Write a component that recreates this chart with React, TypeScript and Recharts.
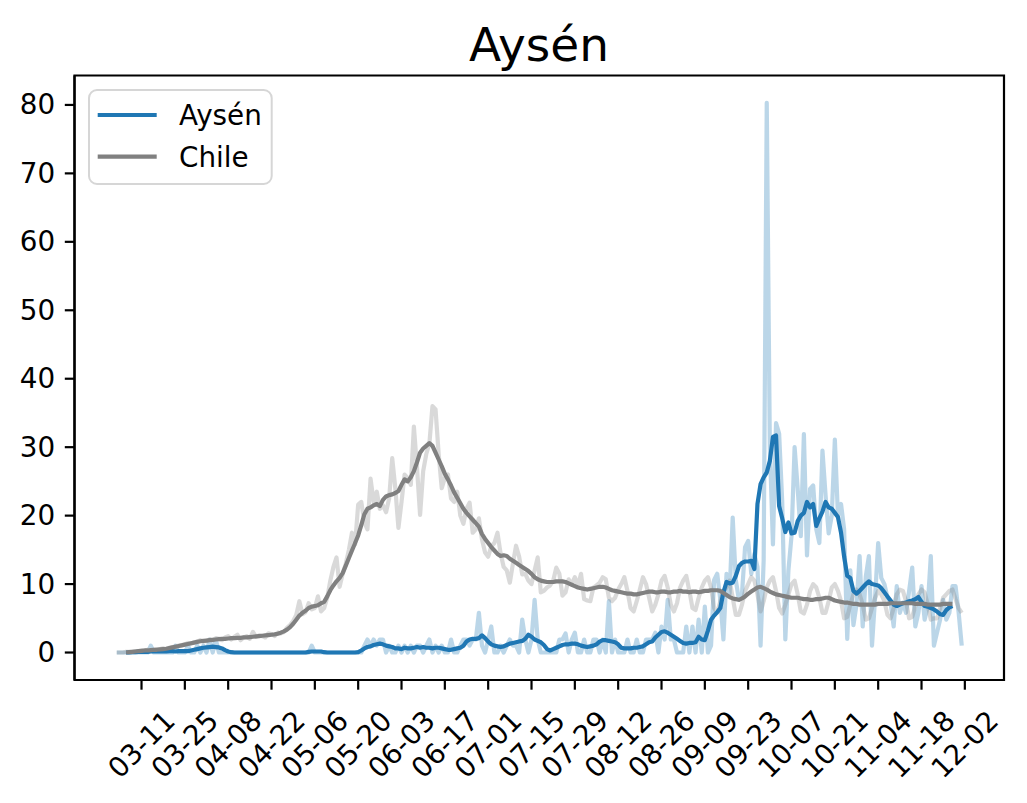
import React from "react";
import { LineChart, Line, XAxis, YAxis, ReferenceArea } from "recharts";

// day 0 = 03-03; daily values per 100k
const aysenRaw = [
  0, 0, 0, 0, 0, 0, 0, 0, 0, 0,
  0, 1, 0, 0, 0, 0, 0, 0, 0, 1,
  0, 0, 0, 1, 0, 0, 1, 0, 1, 0,
  1.9, 0, 1.9, 0, 0, 0, 0, 0, 0, 0,
  0, 0, 0, 0, 0, 0, 0, 0, 0, 0,
  0, 0, 0, 0, 0, 0, 0, 0, 0, 0,
  0, 0, 0, 1, 0, 0, 0, 0, 0, 0,
  0, 0, 0, 0, 0, 0, 0, 0, 0, 0,
  1, 1.9, 1, 1.9, 1, 1.9, 1.9, 0, 1, 0,
  0, 1, 0, 1, 0, 1, 0, 1, 1, 0,
  1, 1.9, 0, 1, 0, 1, 0, 0, 1.9, 0,
  0, 1, 1.9, 1.9, 1, 1.9, 1.9, 5.8, 1, 0,
  1.9, 3.8, 0, 0, 1, 0, 1, 1.9, 1, 1,
  0, 4.8, 1.9, 0, 1.9, 7.7, 1.9, 0, 0, 0,
  0, 0, 0, 1.9, 1.9, 2.8, 0, 1.9, 2.9, 0,
  0, 1.9, 0, 0, 1.9, 1.9, 0, 1.9, 0, 7.5,
  0, 1.9, 0, 0, 0, 1.9, 0, 0, 1.9, 0,
  0, 1.9, 1.9, 1.9, 2.9, 0, 3.8, 1.9, 7.7, 1.9,
  1.9, 0, 0, 0, 3.8, 0, 3.8, 0, 4.8, 0,
  6.7, 0, 1, 10.6, 11.5, 7.7, 1.9, 11.5, 8.6, 19.7,
  10.6, 7.7, 8.6, 15.4, 16.3, 11.5, 14.4, 12.5, 1, 13.4,
  80.3, 30, 15.8, 33.5, 32, 22, 1.9, 12, 17, 30,
  23.9, 17, 31.9, 14.2, 23.9, 24.4, 18, 16, 29.5, 23,
  17.4, 20, 31.1, 20, 21.7, 18, 2, 12, 4, 7,
  14.1, 3.8, 11.1, 14.1, 1, 8, 16, 10.9, 10, 8,
  7.3, 3.8, 9.7, 5.8, 7.3, 5.8, 9, 12.4, 3.8, 5.8,
  9.7, 4.8, 6.7, 14.1, 1, 2.9, 4.8, 7.7, 4.8, 5.8,
  9.7, 9.7, 5.8, 1,
];

const chileRaw = [
  0, 0, 0, 0.1, 0.1, 0.1, 0.2, 0.2, 0.3, 0.3,
  0.4, 0.3, 0.4, 0.5, 0.5, 0.6, 0.5, 0.7, 0.8, 0.9,
  1.0, 1.1, 1.2, 1.4, 1.3, 1.5, 1.6, 1.8, 1.6, 1.7,
  1.9, 1.8, 2.1, 2.0, 1.8, 2.2, 2.4, 1.9, 2.3, 2.6,
  1.8, 2.2, 2.4, 2.0, 3.0, 2.3, 2.5, 2.4, 2.2, 2.8,
  2.7, 2.4, 2.9, 2.8, 3.0, 3.6, 4.0, 4.6, 5.5, 7.5,
  5.6, 5.9, 7.2, 6.3, 6.5, 8.2, 6.0, 6.5, 8.0, 10.5,
  12.5, 13.9, 9.6, 11.5, 13.0, 15.0, 17.5, 15.8, 21.6, 22.0,
  19.0, 18.0, 25.4, 22.0, 23.5, 21.0, 21.5, 20.5, 22.5, 28.4,
  24.0, 18.2, 22.0, 26.0, 25.5, 24.5, 33.0, 27.0, 20.1, 26.5,
  29.0, 30.5, 36.0, 35.5, 29.0, 24.0, 25.5, 26.0, 22.5, 22.0,
  23.5, 20.0, 18.8, 21.0, 21.9, 17.5, 18.0, 19.6, 16.5, 14.6,
  14.0, 15.5, 16.0, 17.5, 14.5, 12.5, 12.0, 10.2, 13.0, 15.6,
  14.0, 11.4, 11.5, 10.5, 10.0, 12.0, 13.9, 8.8, 9.0, 9.5,
  9.8, 10.5, 12.4, 11.5, 8.3, 8.8, 10.7, 10.0, 11.0, 9.8,
  11.5, 7.8, 7.6, 7.5, 9.5, 9.8, 10.2, 11.0, 10.7, 8.0,
  7.5, 8.0, 9.2, 10.0, 11.0, 9.0, 6.5, 6.0, 7.5, 9.2,
  11.0, 10.0, 8.0, 6.0, 7.0, 8.5, 10.5, 11.2, 9.5, 7.0,
  6.0, 7.2, 9.5, 10.5, 11.2, 9.0, 6.5, 6.2, 8.0, 9.5,
  10.5, 11.0, 9.5, 6.5, 5.8, 7.5, 9.0, 9.5, 10.5, 8.0,
  5.5, 5.5, 7.0, 9.0, 10.0, 11.0, 10.5, 8.5, 6.0, 7.5,
  9.5, 10.5, 11.0, 9.0, 6.5, 5.7, 7.0, 8.5, 10.0, 10.5,
  8.5, 6.0, 5.7, 7.0, 9.0, 10.0, 9.5, 8.0, 5.8, 5.8,
  7.5, 9.5, 10.0, 9.0, 7.5, 5.0, 5.2, 7.0, 8.5, 9.2,
  8.5, 7.0, 4.8, 5.0, 6.5, 8.0, 9.0, 8.5, 7.5, 5.5,
  5.0, 6.5, 8.5, 9.2, 9.0, 7.5, 5.0, 5.2, 6.8, 8.5,
  9.2, 8.8, 7.0, 4.8, 5.0, 5.0, 6.5, 8.0, 8.5, 9.0,
  9.2, 7.8, 6.5, 5.8,
];

// 7-day centred averages, first value is day AVG_START
const AVG_START = 3;

const aysenAvg = [
  0, 0, 0.05, 0.05, 0.1, 0.1, 0.1, 0.1, 0.15, 0.15,
  0.15, 0.15, 0.15, 0.15, 0.2, 0.2, 0.15, 0.2, 0.2, 0.2,
  0.2, 0.3, 0.4, 0.5, 0.6, 0.7, 0.75, 0.8, 0.85, 0.8,
  0.75, 0.6, 0.35, 0.15, 0.05, 0, 0, 0, 0, 0,
  0, 0, 0, 0, 0, 0, 0, 0, 0, 0,
  0, 0, 0, 0, 0, 0, 0, 0, 0, 0.1,
  0.15, 0.15, 0.15, 0.15, 0.05, 0, 0, 0, 0, 0,
  0, 0, 0, 0, 0, 0.05, 0.3, 0.6, 0.8, 0.9,
  1.1, 1.2, 1.3, 1.2, 1.0, 0.9, 0.8, 0.6, 0.6, 0.5,
  0.7, 0.6, 0.6, 0.7, 0.8, 0.7, 0.8, 0.7, 0.7, 0.6,
  0.7, 0.7, 0.6, 0.5, 0.4, 0.4, 0.5, 0.6, 0.7, 1.0,
  1.6, 1.9, 2.0, 2.0, 2.1, 2.5, 2.1, 1.6, 1.2, 1.0,
  0.9, 0.8, 0.9, 1.1, 1.3, 1.4, 1.5, 1.6, 1.7, 2.0,
  2.6, 2.3, 1.9, 1.7, 1.5, 1.1, 0.5, 0.3, 0.5, 0.7,
  0.9, 1.1, 1.2, 1.2, 1.3, 1.3, 1.2, 1.0, 0.9, 0.8,
  0.9, 1.0, 1.2, 1.6, 1.8, 1.8, 1.7, 1.6, 1.5, 1.2,
  0.7, 0.6, 0.6, 0.6, 0.7, 0.7, 0.8, 0.9, 1.2, 1.5,
  1.6, 2.2, 2.6, 3.0, 3.1, 2.9, 2.6, 2.3, 2.0, 1.7,
  1.4, 1.3, 1.4, 1.4, 1.5, 2.3, 1.9, 1.8, 3.2, 4.8,
  5.4, 5.9, 6.5, 8.8, 10.3, 10.1, 10.2, 11.2, 12.6, 13.1,
  13.3, 13.3, 13.4, 12.2, 21.7, 24.6, 25.6, 26.3, 28.0, 31.5,
  31.7, 21.4, 19.6, 17.6, 19.0, 17.4, 17.5, 19.2, 20.0, 20.4,
  22.0, 21.2, 21.7, 18.5, 19.6, 20.6, 22.0, 21.2, 21.0, 20.4,
  19.8, 17.5, 14.0, 11.2, 10.9, 9.0, 8.6, 9.0, 9.5, 10.0,
  10.4, 10.0, 9.9, 9.8, 9.4, 8.8, 8.2, 7.6, 7.0, 6.8,
  7.0, 7.2, 7.3, 7.5, 7.6, 7.8, 8.1, 7.4, 6.8, 6.7,
  6.5, 6.3, 6.0, 5.6, 5.5, 6.2, 6.6, 6.8,
];

const chileAvg = [
  0.0, 0.05, 0.1, 0.15, 0.2, 0.25, 0.3, 0.3, 0.35, 0.4,
  0.4, 0.45, 0.5, 0.55, 0.65, 0.75, 0.85, 0.95, 1.05, 1.15,
  1.25, 1.35, 1.45, 1.55, 1.65, 1.7, 1.75, 1.8, 1.85, 1.9,
  1.95, 2.0, 2.0, 2.05, 2.1, 2.1, 2.15, 2.15, 2.2, 2.2,
  2.25, 2.3, 2.35, 2.4, 2.45, 2.5, 2.55, 2.6, 2.65, 2.75,
  2.9, 3.1, 3.35, 3.7, 4.2, 4.8, 5.4, 5.8, 6.1, 6.5,
  6.7, 6.8, 6.9, 7.2, 7.4, 8.2, 9.1, 9.8, 10.4, 10.9,
  11.6, 12.7, 13.8, 14.9, 16.0, 17.1, 18.6, 20.2, 21.0, 21.2,
  21.5, 21.7, 21.4, 22.3, 22.8, 23.0, 23.1, 23.3, 23.6, 24.5,
  25.3, 25.0, 25.6, 26.5, 27.8, 29.2, 29.8, 30.2, 30.6, 30.2,
  29.2, 28.2, 27.2, 26.1, 25.3, 24.4, 23.4, 22.6, 21.8, 21.0,
  20.4, 19.9, 19.4, 18.9, 18.4, 17.3, 16.6, 16.0, 15.4, 14.9,
  14.4, 14.1, 14.2, 14.1, 13.7, 13.4, 13.1, 12.8, 12.5, 12.2,
  11.9, 11.5, 11.0, 10.7, 10.5, 10.4, 10.3, 10.3, 10.3, 10.4,
  10.4, 10.4, 10.3, 10.1, 9.9, 9.7, 9.5, 9.4, 9.3, 9.2,
  9.3, 9.4, 9.5, 9.6, 9.6, 9.5, 9.3, 9.1, 9.0, 8.9,
  8.8, 8.7, 8.6, 8.6, 8.5, 8.5, 8.6, 8.7, 8.8, 8.9,
  8.9, 8.8, 8.8, 8.9, 8.9, 8.8, 8.8, 8.9, 8.9, 9.0,
  8.9, 8.9, 8.8, 8.9, 8.9, 8.8, 8.9, 9.0, 9.0, 9.1,
  9.1, 9.1, 9.0, 8.7, 8.4, 8.1, 7.9, 7.8, 7.7, 7.9,
  8.2, 8.6, 8.9, 9.2, 9.5, 9.6, 9.4, 9.2, 8.9, 8.7,
  8.5, 8.4, 8.3, 8.2, 8.1, 8.0, 8.0, 8.0, 7.9, 7.8,
  7.8, 7.7, 7.7, 7.8, 7.8, 7.9, 8.0, 8.0, 7.8, 7.6,
  7.5, 7.4, 7.3, 7.3, 7.2, 7.1, 7.1, 7.0, 7.0, 7.0,
  7.0, 7.0, 7.0, 7.1, 7.1, 7.1, 7.1, 7.2, 7.2, 7.2,
  7.2, 7.2, 7.2, 7.2, 7.2, 7.1, 7.1, 7.1, 7.1, 7.0,
  7.0, 7.0, 7.0, 7.0, 7.1, 7.1, 7.1, 7.1,
];

const tickDays = [8, 22, 36, 50, 64, 78, 92, 106, 120, 134, 148, 162, 176, 190, 204, 218, 232, 246, 260, 274];
const tickLabels = [
  "03-11", "03-25", "04-08", "04-22", "05-06", "05-20", "06-03", "06-17", "07-01", "07-15",
  "07-29", "08-12", "08-26", "09-09", "09-23", "10-07", "10-21", "11-04", "11-18", "12-02",
];
const yTicks = [0, 10, 20, 30, 40, 50, 60, 70, 80];

const BLUE = "#1f77b4";
const GRAY = "#808080";
const FONT = "DejaVu Sans, sans-serif";
const FS = 27.8;

const X_DOMAIN: [number, number] = [-13.65, 286.65];
const Y_DOMAIN: [number, number] = [-4.015, 84.3];

const avgAt = (arr: number[], i: number) => {
  const k = i - AVG_START;
  return k >= 0 && k < arr.length ? arr[k] : null;
};

const rows = aysenRaw.map((v, i) => ({
  day: i,
  aysenRaw: v,
  chileRaw: chileRaw[i],
  aysenAvg: avgAt(aysenAvg, i),
  chileAvg: avgAt(chileAvg, i),
}));

function XTick(props: any) {
  const { x, y, payload } = props;
  const idx = tickDays.indexOf(payload.value);
  const cy = y + 45;
  return (
    <text
      x={x}
      y={cy}
      textAnchor="middle"
      dominantBaseline="central"
      transform={`rotate(-45, ${x}, ${cy})`}
      fontSize={FS}
      fontFamily={FONT}
      fill="#000"
    >
      {idx >= 0 ? tickLabels[idx] : ""}
    </text>
  );
}

function YTick(props: any) {
  const { x, y, payload } = props;
  return (
    <text x={x} y={y} textAnchor="end" dominantBaseline="central" fontSize={FS} fontFamily={FONT} fill="#000">
      {payload.value}
    </text>
  );
}

export default function App() {
  return (
    <div style={{ position: "absolute", left: 0, top: 0, width: 1027, height: 803, background: "#fff" }}>
      <LineChart
        width={1027}
        height={803}
        data={rows}
        margin={{ top: 75.5, right: 23, left: 0, bottom: 0 }}
      >
        <XAxis
          dataKey="day"
          type="number"
          domain={X_DOMAIN}
          ticks={tickDays}
          interval={0}
          height={123}
          tickSize={9.7}
          tickMargin={9.7}
          tick={<XTick />}
          tickLine={{ stroke: "#000", strokeWidth: 2.2 }}
          axisLine={{ stroke: "#000", strokeWidth: 2.2 }}
        />
        <YAxis
          type="number"
          domain={Y_DOMAIN}
          ticks={yTicks}
          interval={0}
          width={74.5}
          tickSize={9.7}
          tickMargin={9.7}
          tick={<YTick />}
          tickLine={{ stroke: "#000", strokeWidth: 2.2 }}
          axisLine={{ stroke: "#000", strokeWidth: 2.2 }}
        />
        <ReferenceArea
          x1={X_DOMAIN[0]}
          x2={X_DOMAIN[1]}
          y1={Y_DOMAIN[0]}
          y2={Y_DOMAIN[1]}
          fill="none"
          fillOpacity={0}
          stroke="#000"
          strokeWidth={2.2}
          ifOverflow="visible"
        />
        <Line dataKey="aysenRaw" stroke={BLUE} strokeOpacity={0.3} strokeWidth={4.2} dot={false} strokeLinejoin="round" isAnimationActive={false} />
        <Line dataKey="chileRaw" stroke={GRAY} strokeOpacity={0.3} strokeWidth={4.2} dot={false} strokeLinejoin="round" isAnimationActive={false} />
        <Line dataKey="aysenAvg" stroke={BLUE} strokeWidth={4.2} dot={false} strokeLinejoin="round" isAnimationActive={false} />
        <Line dataKey="chileAvg" stroke={GRAY} strokeWidth={4.2} dot={false} strokeLinejoin="round" isAnimationActive={false} />
      </LineChart>
      <svg
        width={1027}
        height={803}
        style={{ position: "absolute", left: 0, top: 0, pointerEvents: "none" }}
      >
        <text x={539} y={61} textAnchor="middle" fontSize={47} fontFamily={FONT} fill="#000">
          Aysén
        </text>
        <rect x={89} y={90} width={182.7} height={94} rx={8} ry={8} fill="#fff" fillOpacity={0.8} stroke="#d6d6d6" strokeWidth={2} />
        <line x1={97.7} y1={115} x2={156.7} y2={115} stroke={BLUE} strokeWidth={4.2} />
        <text x={179} y={125} fontSize={FS} fontFamily={FONT} fill="#000">Aysén</text>
        <line x1={97.7} y1={156.7} x2={156.7} y2={156.7} stroke={GRAY} strokeWidth={4.2} />
        <text x={179} y={166.5} fontSize={FS} fontFamily={FONT} fill="#000">Chile</text>
      </svg>
    </div>
  );
}
